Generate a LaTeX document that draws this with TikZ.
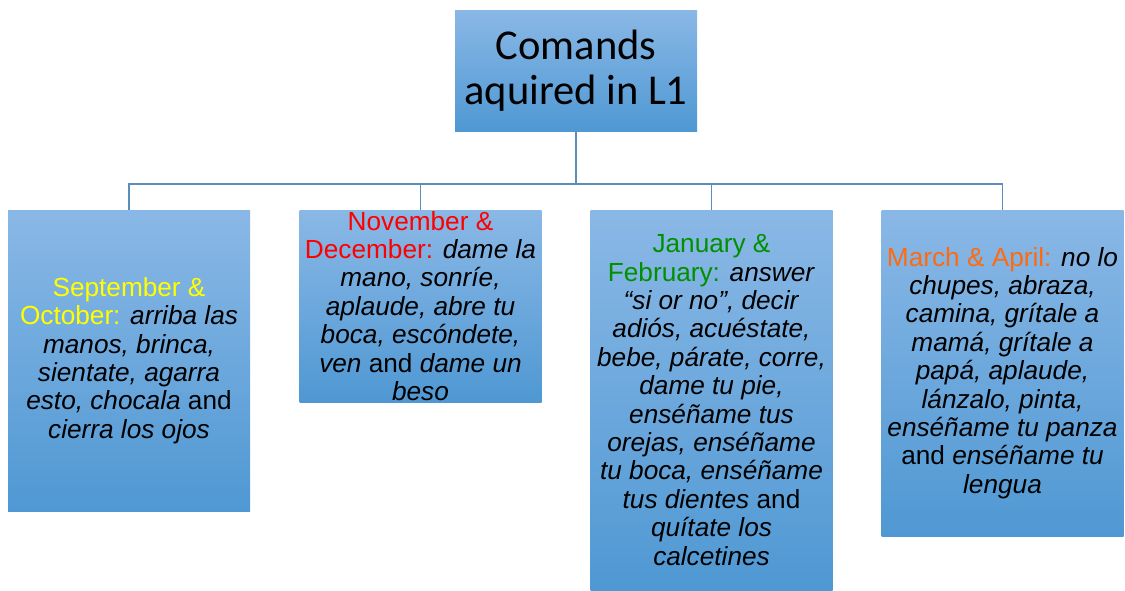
\documentclass[tikz,border=0pt]{standalone}
\usepackage{fontspec}
\setmainfont{Liberation Sans}
\newfontfamily\calibri{Carlito}
\usetikzlibrary{positioning}

\definecolor{boxtop}{HTML}{8AB8E6}
\definecolor{boxbot}{HTML}{4F98D3}
\definecolor{linkblue}{HTML}{5B8CBA}
\definecolor{monthyellow}{HTML}{FFFF00}
\definecolor{monthred}{HTML}{FF0000}
\definecolor{monthgreen}{HTML}{009000}
\definecolor{monthorange}{HTML}{FF6A10}

\begin{document}
\begin{tikzpicture}[x=1pt, y=-1pt,
    box/.style={rectangle, top color=boxtop, bottom color=boxbot, draw=none,
        minimum width=242pt, inner sep=0pt},
    boxtext/.style={align=center, inner sep=0pt,
        font=\fontsize{26.2}{28.4}\selectfont},
    link/.style={draw=linkblue, line width=1.1pt}]
    \useasboundingbox (0,0) rectangle (1125,590);

    % Root node
    \node[box, minimum height=121pt, align=center,
        font=\calibri\fontsize{42.5}{44.5}\selectfont] (root) at (576,70.5)
        {Comands\\aquired in L1};

    % Month boxes
    \node[box, minimum height=301pt] (sepoct) at (129,360.5) {};
    \node[box, minimum height=192pt] (novdec) at (420.5,306) {};
    \node[box, minimum height=380pt] (janfeb) at (711.5,400) {};
    \node[box, minimum height=326pt] (marapr) at (1002.5,373) {};

    % Connectors
    \coordinate (bus) at (576,184);
    \draw[link] (root.south) -- (bus);
    \foreach \n in {sepoct,novdec,janfeb,marapr}
        \draw[link] (bus) -| (\n.north);

    % Box texts
    \node[boxtext] (sepoct-text) at (sepoct.center)
        {\textcolor{monthyellow}{September \&}\\
         \textcolor{monthyellow}{October:} \textit{arriba las}\\
         \textit{manos, brinca,}\\
         \textit{sientate, agarra}\\
         \textit{esto, chocala} and\\
         \textit{cierra los ojos}};
    \node[boxtext] (novdec-text) at (novdec.center)
        {\textcolor{monthred}{November \&}\\
         \textcolor{monthred}{December:} \textit{dame la}\\
         \textit{mano, sonríe,}\\
         \textit{aplaude, abre tu}\\
         \textit{boca, escóndete,}\\
         \textit{ven} and \textit{dame un}\\
         \textit{beso}};
    \node[boxtext] (janfeb-text) at (janfeb.center)
        {\textcolor{monthgreen}{January \&}\\
         \textcolor{monthgreen}{February:} \textit{answer}\\
         \textit{“si or no”, decir}\\
         \textit{adiós, acuéstate,}\\
         \textit{bebe, párate, corre,}\\
         \textit{dame tu pie,}\\
         \textit{enséñame tus}\\
         \textit{orejas, enséñame}\\
         \textit{tu boca, enséñame}\\
         \textit{tus dientes} and\\
         \textit{quítate los}\\
         \textit{calcetines}};
    \node[boxtext] (marapr-text) at (marapr.center)
        {\textcolor{monthorange}{March \& April:} \textit{no lo}\\
         \textit{chupes, abraza,}\\
         \textit{camina, grítale a}\\
         \textit{mamá, grítale a}\\
         \textit{papá, aplaude,}\\
         \textit{lánzalo, pinta,}\\
         \textit{enséñame tu panza}\\
         and \textit{enséñame tu}\\
         \textit{lengua}};
\end{tikzpicture}
\end{document}
